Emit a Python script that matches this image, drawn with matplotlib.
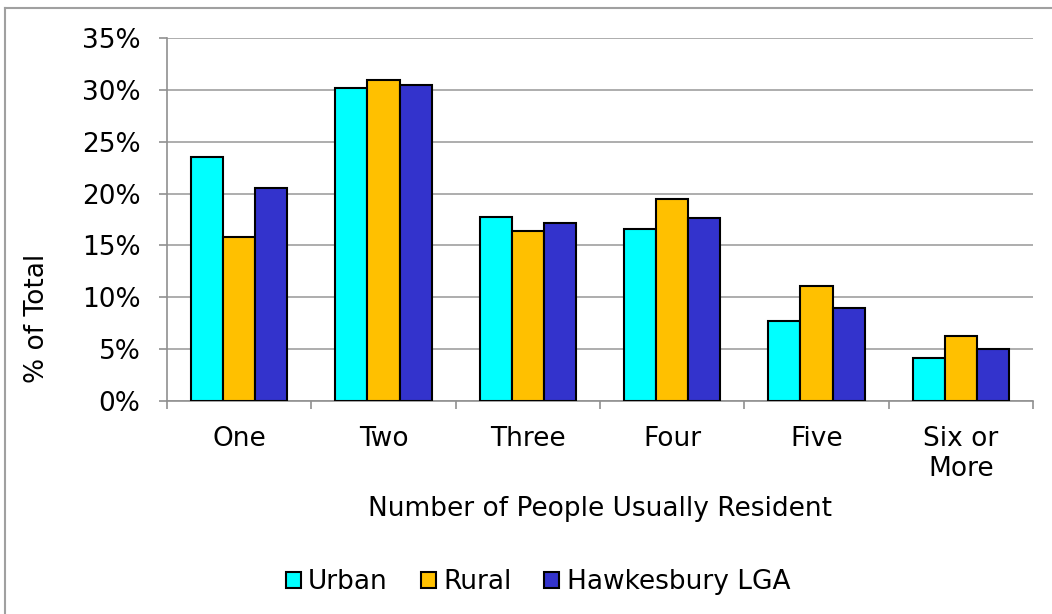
import numpy as np
import matplotlib.pyplot as plt
from matplotlib.lines import Line2D

categories = ["One", "Two", "Three", "Four", "Five", "Six or\nMore"]
urban = [23.56, 30.16, 17.72, 16.63, 7.70, 4.19]
rural = [15.79, 30.97, 16.37, 19.43, 11.12, 6.25]
hawkesbury = [20.56, 30.49, 17.21, 17.69, 8.99, 5.00]
series_names = ["Urban", "Rural", "Hawkesbury LGA"]
colors = ["#00FFFF", "#FFC000", "#3333CC"]

plt.rcParams["font.family"] = "DejaVu Sans"
fs = 19

fig = plt.figure(figsize=(10.52, 6.14), dpi=100)
ax = fig.add_axes([167 / 1052, 1 - 401 / 614, 866 / 1052, 363 / 614])

x = np.arange(len(categories))
w = 1 / 4.5
for i, (vals, name, c) in enumerate(zip([urban, rural, hawkesbury], series_names, colors)):
    ax.bar(x + (i - 1) * w, vals, width=w, color=c, edgecolor="black",
           linewidth=1.5, label=name, zorder=3)

ax.set_xlim(-0.5, len(categories) - 0.5)
ax.set_ylim(0, 35)
ax.set_yticks(np.arange(0, 36, 5))
ax.set_yticklabels([f"{v}%" for v in range(0, 36, 5)], fontsize=fs)
ax.yaxis.grid(True, color="#A0A0A0", linewidth=1.2, zorder=0)

ax.set_xticks(np.arange(-0.5, len(categories), 1))
ax.set_xticklabels([])
ax.set_xticks(x, minor=True)
ax.set_xticklabels(categories, minor=True, fontsize=fs, linespacing=1.2)
ax.tick_params(axis="x", which="minor", length=0, pad=18)
ax.tick_params(axis="x", which="major", length=6, color="#909090", width=1.2)
ax.tick_params(axis="y", length=6, color="#909090", width=1.2, pad=13)

for s in ["top", "right"]:
    ax.spines[s].set_visible(False)
for s in ["left", "bottom"]:
    ax.spines[s].set_color("#909090")
    ax.spines[s].set_linewidth(1.2)

fig.text(600 / 1052, 1 - 509 / 614, "Number of People Usually Resident",
         ha="center", va="center", fontsize=fs)
fig.text(37 / 1052, 1 - 318 / 614, "% of Total", rotation=90,
         ha="center", va="center", fontsize=fs)

fig.legend(loc="center", bbox_to_anchor=(538 / 1052, 1 - 582 / 614), ncol=3,
           frameon=False, fontsize=fs, handlelength=0.57, handleheight=0.57,
           handletextpad=0.27, columnspacing=1.25, borderaxespad=0)

# outer chart frame (left and top edges visible in the original)
fig.add_artist(Line2D([5 / 1052, 5 / 1052], [0, 1 - 8 / 614], color="#A0A0A0",
                      linewidth=1.5, transform=fig.transFigure))
fig.add_artist(Line2D([5 / 1052, 1], [1 - 8 / 614, 1 - 8 / 614], color="#A0A0A0",
                      linewidth=1.5, transform=fig.transFigure))

fig.savefig("out.png", dpi=100)
